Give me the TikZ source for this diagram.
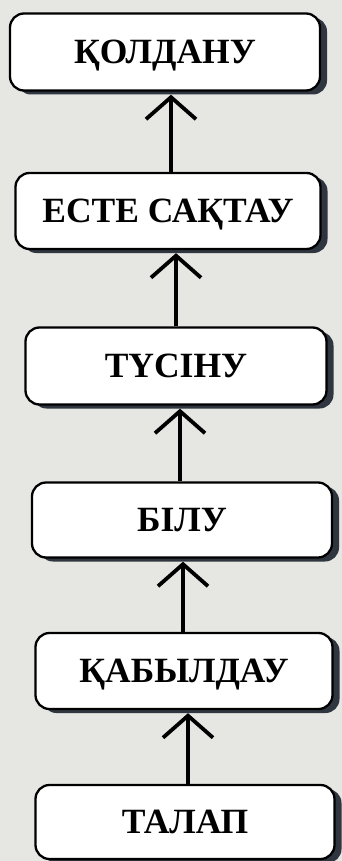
\documentclass[tikz,border=0pt]{standalone}
\usepackage{fontspec}
\setmainfont{Liberation Serif}
\usetikzlibrary{arrows.meta,shadows}
\definecolor{paper}{HTML}{E6E6E3}
\definecolor{shade}{HTML}{2F3640}
\tikzset{
  stagebox/.style={draw=black, line width=2.3pt, fill=white, rounded corners=14pt,
    font=\fontsize{35.5}{38}\selectfont\bfseries, inner sep=0pt,
    text height=23.5pt, text depth=0pt,
    drop shadow={shadow xshift=7pt, shadow yshift=-4pt, fill=shade, opacity=1}},
  uparrow/.style={line width=3.8pt, -{Straight Barb[length=22pt,width=50pt,line width=3.8pt]}, black}
}
\begin{document}
\begin{tikzpicture}[x=1pt,y=-1pt]
\fill[paper] (0,0) rectangle (342,861);
\useasboundingbox (0,0) rectangle (342,861);
\node[stagebox, minimum width=310pt, minimum height=77pt] (b1) at (165,52) {ҚОЛДАНУ};
\node[stagebox, minimum width=305pt, minimum height=76pt] (b2) at (168,211) {ЕСТЕ САҚТАУ};
\node[stagebox, minimum width=301pt, minimum height=77pt] (b3) at (176,366) {ТҮСІНУ};
\node[stagebox, minimum width=300pt, minimum height=75pt] (b4) at (182,520) {БІЛУ};
\node[stagebox, minimum width=297pt, minimum height=76pt] (b5) at (184,671) {ҚАБЫЛДАУ};
\node[stagebox, minimum width=299pt, minimum height=74pt] (b6) at (185,822) {ТАЛАП};
\coordinate (a1) at (171,0);
\coordinate (a2) at (176,0);
\coordinate (a3) at (180,0);
\coordinate (a4) at (183,0);
\coordinate (a5) at (188,0);
\draw[uparrow] (b2.north -| a1) -- ([yshift=-3pt]b1.south -| a1);
\draw[uparrow] (b3.north -| a2) -- ([yshift=-3pt]b2.south -| a2);
\draw[uparrow] (b4.north -| a3) -- ([yshift=-3pt]b3.south -| a3);
\draw[uparrow] (b5.north -| a4) -- ([yshift=-3pt]b4.south -| a4);
\draw[uparrow] (b6.north -| a5) -- ([yshift=-3pt]b5.south -| a5);
\end{tikzpicture}
\end{document}
